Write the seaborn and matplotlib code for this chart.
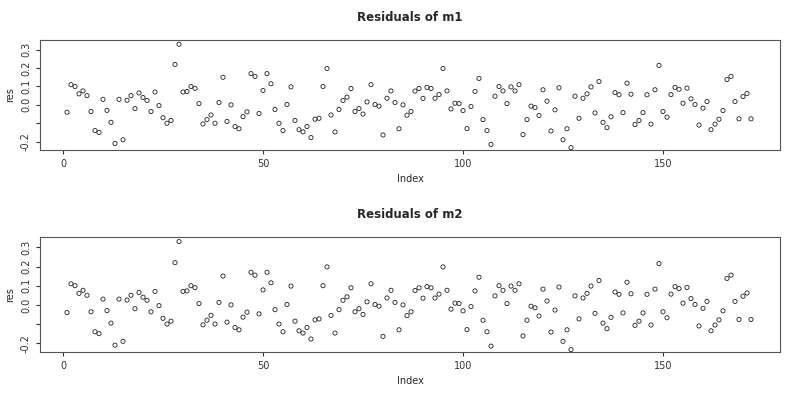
import matplotlib
matplotlib.use("Agg")
import matplotlib.pyplot as plt
import seaborn as sns
import pandas as pd
import numpy as np

res_m1 = [-0.04,0.11,0.10,0.06,0.076,0.05,-0.036,-0.14,-0.15,0.03,-0.03,-0.095,-0.21,0.03,-0.19,0.025,0.05,-0.02,0.065,0.04,
 0.024,-0.036,0.07,-0.004,-0.07,-0.10,-0.085,0.22,0.33,0.07,0.073,0.10,0.09,0.007,-0.104,-0.08,-0.055,-0.10,0.013,0.15,-0.09,
 0.0,-0.118,-0.13,-0.064,-0.038,0.17,0.155,-0.047,0.078,0.17,0.115,-0.025,-0.10,-0.14,0.002,0.098,-0.085,-0.135,-0.147,-0.118,
 -0.178,-0.078,-0.073,0.10,0.198,-0.055,-0.147,-0.025,0.024,0.042,0.089,-0.036,-0.02,-0.05,0.016,0.11,0.002,-0.007,-0.164,0.036,
 0.076,0.013,-0.13,0.0,-0.056,-0.036,0.075,0.089,
 0.035,0.095,0.089,0.036,0.056,0.198,0.076,-0.022,0.009,0.007,-0.031,-0.129,-0.009,0.073,0.144,-0.08,-0.14,-0.215,0.047,0.10,
 0.076,0.007,0.098,0.076,0.11,-0.162,-0.08,-0.007,-0.015,-0.058,0.082,0.02,-0.142,-0.027,0.093,-0.19,-0.13,-0.233,0.047,-0.073,
 0.036,0.06,0.098,-0.044,0.127,-0.095,-0.124,
 -0.065,0.067,0.055,-0.042,0.118,0.058,-0.107,-0.085,-0.042,0.055,-0.105,0.082,0.215,-0.036,-0.067,0.056,0.095,0.085,0.009,0.091,
 0.033,0.002,-0.11,-0.018,0.018,-0.135,-0.105,-0.078,-0.031,0.138,0.155,0.018,-0.076,0.045,0.062,-0.076]
res_m2 = list(res_m1)
titles = ["Residuals of m1", "Residuals of m2"]
yticks = [-0.2, -0.1, 0.0, 0.1, 0.2, 0.3]
yticklabels = ["-0.2", "", "0.0", "0.1", "0.2", "0.3"]
xticks = [0, 50, 100, 150]

sns.set_style("white")
plt.rcParams['font.family'] = ['DejaVu Sans']
fig = plt.figure(figsize=(8, 4.04), dpi=100)
rects = [[0.05, 0.629, 0.925, 0.272], [0.05, 0.129, 0.925, 0.284]]
for rect, res, title in zip(rects, [res_m1, res_m2], titles):
    ax = fig.add_axes(rect)
    df = pd.DataFrame({"Index": np.arange(1, len(res) + 1), "res": res})
    sns.scatterplot(data=df, x="Index", y="res", ax=ax, marker="o", s=9,
                    facecolors="none", edgecolor="#222222", linewidth=0.6)
    ax.set_xlim(-5.75, 179.25)
    ax.set_ylim(-0.245, 0.353)
    ax.set_xticks(xticks)
    ax.set_yticks(yticks)
    ax.set_yticklabels(yticklabels, rotation=90, va="center")
    ax.tick_params(labelsize=7, length=3, colors="#333333", left=True, bottom=True)
    ax.set_xlabel("Index", fontsize=7)
    ax.set_ylabel("res", fontsize=7)
    ax.set_title(title, fontsize=8.5, fontweight="bold", pad=14)
    for s in ax.spines.values():
        s.set_color("#555555"); s.set_linewidth(0.8)
fig.savefig("out.png", dpi=100)
